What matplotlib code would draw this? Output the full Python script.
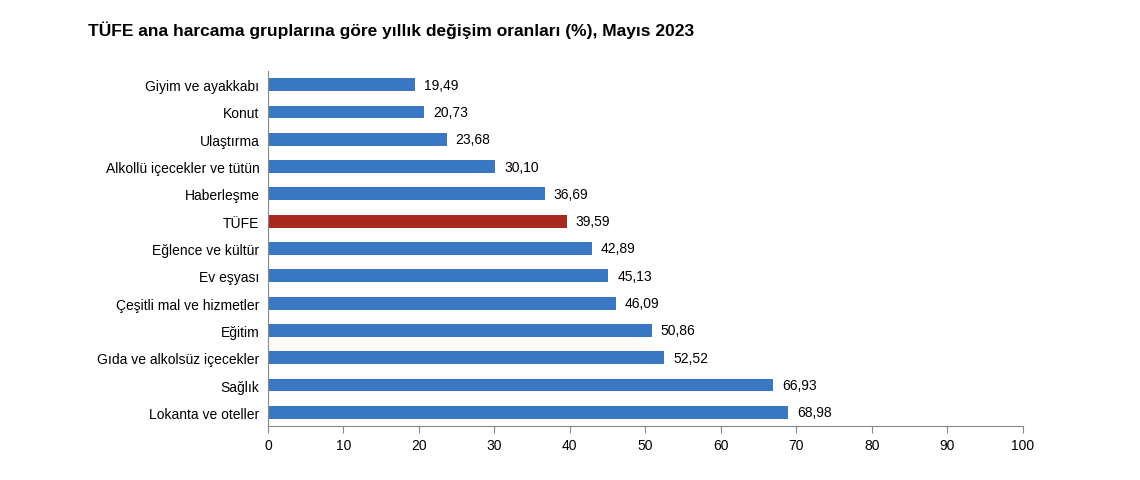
import matplotlib
matplotlib.use("Agg")
import matplotlib.pyplot as plt

categories = ["Giyim ve ayakkabı", "Konut", "Ulaştırma", "Alkollü içecekler ve tütün",
              "Haberleşme", "TÜFE", "Eğlence ve kültür", "Ev eşyası",
              "Çeşitli mal ve hizmetler", "Eğitim", "Gıda ve alkolsüz içecekler",
              "Sağlık", "Lokanta ve oteller"]
values = [19.49, 20.73, 23.68, 30.10, 36.69, 39.59, 42.89, 45.13, 46.09, 50.86, 52.52, 66.93, 68.98]
xticks = [0, 10, 20, 30, 40, 50, 60, 70, 80, 90, 100]

plt.rcParams["font.family"] = "Liberation Sans"
fig = plt.figure(figsize=(11.4, 4.81), dpi=100)
ax = fig.add_axes([0.235, 0.1123, 0.662, 0.738])
colors = ["#a8291f" if c == "TÜFE" else "#3b78c3" for c in categories]
ys = list(range(len(categories)))
ax.barh(ys, values, height=0.47, color=colors)
for y, v in zip(ys, values):
    ax.text(v + 1.2, y, f"{v:.2f}".replace(".", ","), va="center", ha="left", fontsize=10)
ax.set_yticks(ys)
ax.set_yticklabels(categories, fontsize=10)
ax.set_ylim(len(categories) - 0.5, -0.5)
ax.set_xlim(0, 100)
ax.set_xticks(xticks)
ax.set_xticklabels([str(t) for t in xticks], fontsize=10)
for s in ["top", "right"]:
    ax.spines[s].set_visible(False)
ax.spines["bottom"].set_color("#888888")
ax.spines["left"].set_color("#888888")
ax.tick_params(axis="y", length=0, pad=6)
ax.tick_params(axis="x", length=5, color="#888888", direction="out")
fig.text(88 / 1140, 1 - 30 / 481, "TÜFE ana harcama gruplarına göre yıllık değişim oranları (%), Mayıs 2023",
         fontsize=12.5, fontweight="bold", va="center", ha="left")
fig.savefig("out.png", dpi=100, facecolor="white")
